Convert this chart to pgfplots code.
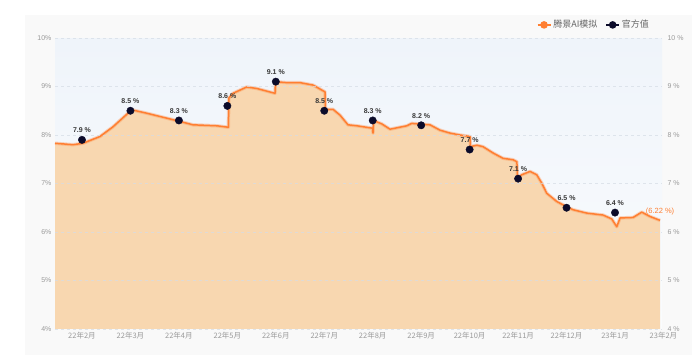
\documentclass[border=0pt]{standalone}
\usepackage{pgfplots}
\pgfplotsset{compat=1.18}
\usepackage{pgfplotstable}
\usepackage{fontspec}
\setmainfont{Liberation Sans}
\newfontfamily\cjk{Noto Sans CJK SC}
\definecolor{peach}{HTML}{F8D7B0}
\definecolor{lineor}{HTML}{FF7F32}
\definecolor{dotc}{HTML}{0B0B2A}
\definecolor{tickc}{HTML}{9A9A9A}
\definecolor{gridc}{HTML}{D5DCE5}
\definecolor{bgtop}{HTML}{EFF4FA}
\definecolor{bgbot}{HTML}{FAFCFE}
\definecolor{panel}{HTML}{F9F9F9}

\pgfplotstableread{
x y
-0.557 7.83
-0.186 7.80
0.021 7.83
0.372 7.97
0.640 8.17
0.949 8.45
1.026 8.52
1.335 8.45
2.023 8.28
2.291 8.21
2.786 8.19
3.020 8.16
3.030 8.76
3.117 8.86
3.399 8.99
3.606 8.96
3.983 8.86
3.993 9.10
4.225 9.08
4.499 9.08
4.768 9.03
5.015 8.89
5.025 8.53
5.181 8.53
5.325 8.41
5.490 8.21
5.676 8.19
6.000 8.14
6.006 8.04
6.015 8.30
6.186 8.23
6.357 8.12
6.702 8.19
6.805 8.24
7.183 8.21
7.389 8.10
7.595 8.04
7.802 8.00
8.008 7.97
8.018 7.76
8.150 7.79
8.277 7.76
8.483 7.63
8.689 7.52
8.896 7.49
8.975 7.45
8.990 7.12
9.075 7.18
9.247 7.25
9.385 7.18
9.488 7.01
9.591 6.80
9.798 6.63
10.004 6.52
10.134 6.46
10.417 6.39
10.753 6.35
10.933 6.27
11.036 6.11
11.104 6.29
11.373 6.30
11.552 6.41
11.723 6.32
11.930 6.24
}\aidata

\begin{document}
\begin{tikzpicture}
\path[use as bounding box,fill=white] (0pt,0pt) rectangle (692pt,355pt);
\fill[panel] (25pt,0pt) rectangle (692pt,340pt);
\begin{axis}[
  at={(55pt,26pt)}, anchor=south west,
  scale only axis, width=607pt, height=291pt,
  xmin=-0.557, xmax=11.97, ymin=4, ymax=10,
  axis line style={draw=none},
  axis background/.style={shade, top color=bgtop, bottom color=bgbot},
  xtick={0,1,2,3,4,5,6,7,8,9,10,11},
  xticklabels={22年2月,22年3月,22年4月,22年5月,22年6月,22年7月,22年8月,22年9月,22年10月,22年11月,22年12月,23年1月},
  xticklabel style={font=\cjk\fontsize{7.5}{8}\selectfont, text=tickc},
  ytick={4,5,6,7,8,9,10},
  yticklabels={4\%,5\%,6\%,7\%,8\%,9\%,10\%},
  yticklabel style={font=\fontsize{7}{8}\selectfont, text=tickc},
  major tick length=0pt,
  ymajorgrids,
  grid style={gridc, dashed, line width=0.5pt, opacity=0.7},
  axis on top,
  clip=false,
  legend style={at={(0.987,1.045)}, anchor=east, draw=none, fill=none,
    font=\cjk\fontsize{9}{10}\selectfont, text=black!60, legend columns=2,
    /tikz/every even column/.append style={column sep=6pt}},
  legend image code/.code={\draw[mark repeat=2,mark phase=2,#1] plot coordinates {(0pt,0pt) (6.5pt,0pt) (13pt,0pt)};},
]
\addplot[fill=peach, draw=none, forget plot] table[x=x,y=y]{\aidata} |- (axis cs:-0.557,4) -- cycle;
\addplot[lineor, line width=3.4pt, opacity=0.3, forget plot, line join=round] table[x=x,y=y]{\aidata};
\addplot[lineor, line width=1.5pt, forget plot, line join=round] table[x=x,y=y]{\aidata};
\addplot[only marks, mark=*, mark size=3.7pt, dotc, forget plot,
  point meta=explicit symbolic,
  nodes near coords,
  nodes near coords style={font=\bfseries\fontsize{7}{8}\selectfont, text=black!78, anchor=south, yshift=3.5pt}]
  coordinates {
  (0,7.9) [7.9 \%]
  (1,8.5) [8.5 \%]
  (2,8.3) [8.3 \%]
  (3,8.6) [8.6 \%]
  (4,9.1) [9.1 \%]
  (5,8.5) [8.5 \%]
  (6,8.3) [8.3 \%]
  (7,8.2) [8.2 \%]
  (8,7.7) [7.7 \%]
  (9,7.1) [7.1 \%]
  (10,6.5) [6.5 \%]
  (11,6.4) [6.4 \%]
  };
\addlegendimage{lineor, line width=1.5pt, mark=*, mark size=3pt, mark options={fill=lineor,draw=lineor}}
\addlegendentry{腾景AI模拟}
\addlegendimage{dotc, line width=1.5pt, mark=*, mark size=3pt}
\addlegendentry{官方值}
\node[anchor=south, text=lineor, font=\fontsize{7.5}{8}\selectfont, inner sep=1pt] at (axis cs:11.93,6.33) {(6.22 \%)};
\node[anchor=north, text=tickc, font=\cjk\fontsize{7.5}{8}\selectfont] at (axis cs:12,4) {23年2月};
\end{axis}
\begin{axis}[
  at={(55pt,26pt)}, anchor=south west,
  scale only axis, width=607pt, height=291pt,
  xmin=-0.557, xmax=11.97, ymin=4, ymax=10,
  axis x line=none, axis y line*=right,
  axis line style={draw=none},
  ytick={4,5,6,7,8,9,10},
  yticklabels={4 \%,5 \%,6 \%,7 \%,8 \%,9 \%,10 \%},
  yticklabel style={font=\fontsize{7}{8}\selectfont, text=tickc, xshift=2pt},
  major tick length=0pt,
]
\addplot[draw=none] coordinates {(0,5)};
\end{axis}
\end{tikzpicture}
\end{document}
